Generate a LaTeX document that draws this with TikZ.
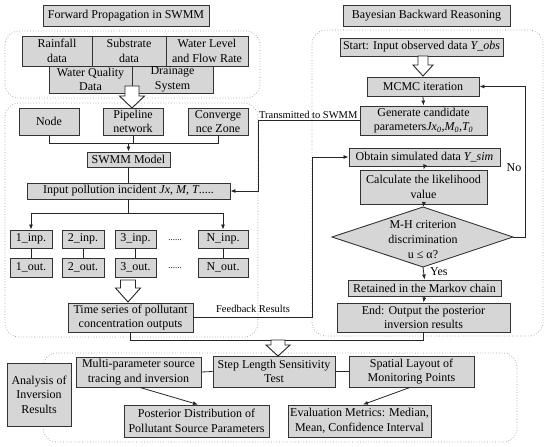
\documentclass[tikz,border=0pt]{standalone}
\usepackage{fontspec}
\setmainfont{Liberation Serif}
\usetikzlibrary{arrows.meta}
\tikzset{
 box/.style={draw=black!80, fill=black!16, line width=0.9pt, align=center, inner sep=0pt, font=\fontsize{12}{14.5}\selectfont},
 boxline/.style={draw=black!80, fill=black!16, line width=0.9pt},
 cont/.style={draw=black!40, dotted, line width=0.7pt, rounded corners=14pt},
 conn/.style={draw=black!85, line width=0.8pt},
 arr/.style={conn, -{Latex[length=5pt,width=4pt]}},
 harr/.style={draw=black!85, fill=white, line width=0.9pt, line join=miter},
 lbl/.style={font=\fontsize{10.5}{12}\selectfont, inner sep=0pt},
 txt/.style={font=\fontsize{12}{15}\selectfont, inner sep=0pt, align=center},
}
\newcommand\bx[6]{\node[box, minimum width={(#4-#2)*1pt}, minimum height={(#5-#3)*1pt}] (#1) at ({(#2+#4)/2},{(#3+#5)/2}) {#6};}
\newcommand\harrowdn[6]{\draw[harr] ({#1-#5},#2) -- ({#1+#5},#2) -- ({#1+#5},#3) -- ({#1+#6},#3) -- (#1,#4) -- ({#1-#6},#3) -- ({#1-#5},#3) -- cycle;}
\begin{document}
\begin{tikzpicture}[x=1pt,y=-1pt]
\useasboundingbox (0,0) rectangle (550,447);
\fill[white] (0,0) rectangle (550,447);
% containers
\draw[cont] (5,31) rectangle (260,98);
\draw[cont] (5,103) rectangle (258,337);
\draw[cont] (312,30) rectangle (543,336);
\draw[cont] (43,353) rectangle (517,442);
% titles
\bx{fwdT}{43}{5}{209}{26}{Forward Propagation in SWMM}
\bx{bayT}{343}{5}{510}{26}{Bayesian Backward Reasoning}
% data boxes
\bx{rain}{22}{36}{92}{66}{Rainfall\\data}
\bx{subs}{92}{36}{166}{66}{Substrate\\data}
\bx{wlev}{166}{36}{248}{66}{Water Level\\and Flow Rate}
\bx{wq}{49}{66}{132}{93}{Water Quality\\Data}
\bx{drain}{132}{66}{213}{93}{Drainage\\System}
\harrowdn{132}{86}{96}{108}{7}{12.5}
% SWMM side
\bx{node}{19}{108}{79}{135}{Node}
\bx{pipe}{103}{108}{163}{135}{Pipeline\\network}
\bx{conv}{188}{108}{248}{135}{Converge\\nce Zone}
\bx{swmm}{87}{152}{170}{167}{SWMM Model}
\bx{input}{27}{183}{230}{199}{Input pollution incident \textit{Jx}, \textit{M}, \textit{T}.....}
\bx{i1}{10}{230}{52}{248}{1\_inp.}
\bx{i2}{62}{230}{104}{248}{2\_inp.}
\bx{i3}{115}{230}{156}{248}{3\_inp.}
\bx{iN}{198}{230}{248}{248}{N\_inp.}
\bx{o1}{10}{258}{52}{277}{1\_out.}
\bx{o2}{62}{258}{104}{277}{2\_out.}
\bx{o3}{115}{258}{156}{277}{3\_out.}
\bx{oN}{198}{258}{248}{277}{N\_out.}
\node[txt, font=\fontsize{9}{10}\selectfont] (dotsA) at (175,240) {......};
\node[txt, font=\fontsize{9}{10}\selectfont] (dotsB) at (175,268) {......};
\bx{time}{68}{303}{193}{332}{Time series of pollutant\\concentration outputs}
\harrowdn{128}{280}{288}{302}{7.5}{12.5}
% connectors left
\coordinate (hl) at (0,143);
\draw[conn] (node.south) -- (node.south|-hl) -- (conv.south|-hl) -- (conv.south);
\draw[conn] (pipe.south) -- (pipe.south|-hl);
\draw[arr] (swmm.north|-hl) -- (swmm.north);
\draw[conn] (swmm.south) -- (input.north);
\coordinate (hb) at (0,213);
\draw[conn] (input.south) -- (input.south|-hb);
\draw[conn] (i1.north|-hb) -- (iN.north|-hb);
\draw[arr] (i1.north|-hb) -- (i1.north);
\draw[arr] (iN.north|-hb) -- (iN.north);
\foreach \k in {1,2,3,N} \draw[conn] (i\k.south) -- (o\k.north);
% Bayesian side
\bx{start}{340}{38}{503}{56}{Start: Input observed data \textit{Y\_obs}}
\bx{mcmc}{367}{77}{479}{96}{MCMC iteration}
\harrowdn{423}{56}{65}{76}{5}{10}
\bx{gen}{360}{106}{487}{135}{Generate candidate\\parameters\textit{Jx\textsubscript{0},M\textsubscript{0},T\textsubscript{0}}}
\bx{obt}{349}{148}{500}{166}{Obtain simulated data \textit{Y\_sim}}
\bx{calc}{360}{170}{487}{204}{Calculate the likelihood\\value}
\coordinate (mhT) at (423,207);
\coordinate (mhR) at (513,237);
\coordinate (mhB) at (423,267);
\coordinate (mhL) at (332,237);
\draw[boxline] (mhT) -- (mhR) -- (mhB) -- (mhL) -- cycle;
\node[txt] (mh) at (423,240) {M-H criterion\\discrimination\\u ≤ α?};
\bx{ret}{348}{280}{501}{296}{Retained in the Markov chain}
\bx{end}{337}{303}{510}{332}{End: Output the posterior\\inversion results}
\draw[arr] (mcmc.south) -- (gen.north);
\draw[arr] (obt.south) -- (calc.north);
\draw[arr] (calc.south) -- (mhT);
\draw[arr] (mhB) -- (ret.north);
\draw[arr] (ret.south) -- (end.north);
\node[txt, anchor=west] (yes) at (430,272) {Yes};
\coordinate (nx) at (525,0);
\draw[arr] (mhR) -- (mhR-|nx) |- (mcmc.east);
\node[txt] (no) at (514,168) {No};
% cross connectors
\coordinate (tx) at (258,0);
\draw[arr] (gen.west) -- (gen.west-|tx) |- (input.east);
\node[lbl, anchor=south west] (tlab) at (259,119) {Transmitted to SWMM};
\coordinate (fx) at (312,0);
\draw[arr] (time.east) -- (time.east-|fx) |- (obt.west);
\node[lbl] (flab) at (253,309) {Feedback Results};
\coordinate (jb) at (0,340);
\draw[conn] (time.south) -- (time.south|-jb) -- (end.south|-jb) -- (end.south);
% bottom
\bx{anal}{7}{363}{71}{426}{Analysis of\\Inversion\\Results}
\bx{multi}{76}{357}{201}{387}{Multi-parameter source\\tracing and inversion}
\bx{step}{213}{356}{335}{387}{Step Length Sensitivity\\Test}
\bx{spat}{349}{356}{474}{387}{Spatial Layout of\\Monitoring Points}
\bx{post}{124}{405}{269}{437}{Posterior Distribution of\\Pollutant Source Parameters}
\bx{eval}{288}{405}{431}{437}{Evaluation Metrics: Median,\\Mean, Confidence Interval}
\harrowdn{278}{340}{345}{356}{7}{12}
\draw[conn] (multi.east) -- (step.west);
\draw[conn] (step.east) -- (spat.west);
\draw[arr] ([xshift=1.5pt]multi.south) -- ([xshift=1.5pt]post.north);
\draw[arr] ([xshift=-1.5pt]spat.south) -- ([xshift=3.5pt]eval.north);
\end{tikzpicture}
\end{document}
